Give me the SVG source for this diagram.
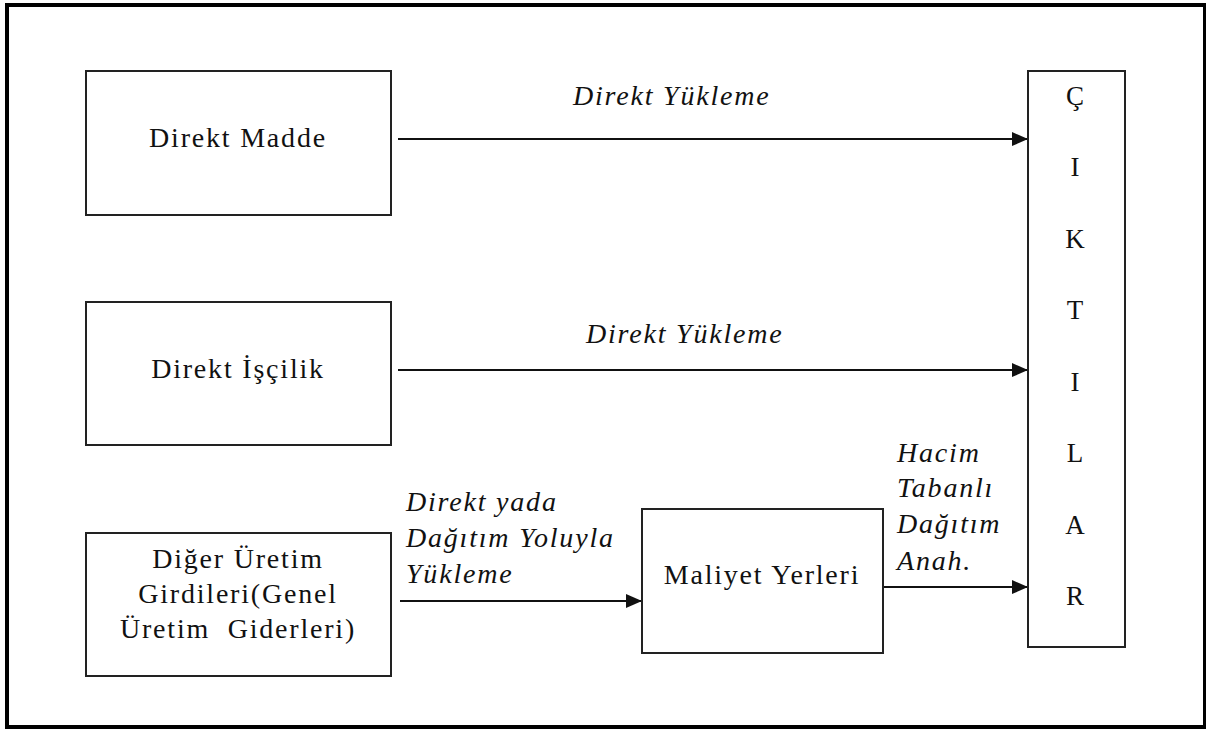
<svg xmlns="http://www.w3.org/2000/svg" width="1206" height="729" viewBox="0 0 1206 729">
  <defs>
    <marker id="arrow" markerUnits="userSpaceOnUse" markerWidth="17" markerHeight="14" refX="16" refY="7" orient="auto">
      <path d="M0,0 L16,7 L0,14 Z" fill="#111"/>
    </marker>
    <style>
      .box { fill: #fff; stroke: #222; stroke-width: 2; }
      .frame { fill: #fff; stroke: #000; stroke-width: 4; }
      .label { font-family: "Liberation Serif", "Times New Roman", serif; font-size: 28px; letter-spacing: 1.8px; fill: #111; text-anchor: middle; }
      .edge-label { font-family: "Liberation Serif", "Times New Roman", serif; font-style: italic; font-size: 28px; letter-spacing: 1.8px; fill: #111; }
      .letter { font-family: "Liberation Serif", "Times New Roman", serif; font-size: 27px; fill: #111; text-anchor: middle; }
      .conn { stroke: #111; stroke-width: 2; fill: none; marker-end: url(#arrow); }
    </style>
  </defs>

  <!-- outer frame -->
  <rect class="frame" x="7" y="5" width="1198" height="722"/>

  <!-- connectors -->
  <g id="connectors">
    <line class="conn" x1="398" y1="139" x2="1028" y2="139"/>
    <line class="conn" x1="398" y1="370" x2="1028" y2="370"/>
    <line class="conn" x1="400" y1="601" x2="642" y2="601"/>
    <line class="conn" x1="883" y1="587" x2="1028" y2="587"/>
    <text class="edge-label" x="573" y="105">Direkt Yükleme</text>
    <text class="edge-label" x="586" y="343">Direkt Yükleme</text>
    <text class="edge-label" x="406" y="511">Direkt yada</text>
    <text class="edge-label" x="406" y="547">Dağıtım Yoluyla</text>
    <text class="edge-label" x="406" y="583">Yükleme</text>
    <text class="edge-label" x="897" y="462">Hacim</text>
    <text class="edge-label" x="897" y="497">Tabanlı</text>
    <text class="edge-label" x="897" y="533">Dağıtım</text>
    <text class="edge-label" x="897" y="570">Anah.</text>
  </g>

  <!-- direct material -->
  <g id="direkt-madde">
    <rect class="box" x="86" y="71" width="305" height="144"/>
    <text class="label" x="238" y="147">Direkt Madde</text>
  </g>

  <!-- direct labour -->
  <g id="direkt-iscilik">
    <rect class="box" x="86" y="302" width="305" height="143"/>
    <text class="label" x="238" y="378">Direkt İşçilik</text>
  </g>

  <!-- other production inputs -->
  <g id="diger-uretim">
    <rect class="box" x="86" y="533" width="305" height="143"/>
    <text class="label" x="238" y="568">Diğer Üretim</text>
    <text class="label" x="238" y="603">Girdileri(Genel</text>
    <text class="label" x="238" y="638" xml:space="preserve">Üretim  Giderleri)</text>
  </g>

  <!-- cost centres -->
  <g id="maliyet-yerleri">
    <rect class="box" x="642" y="509" width="241" height="144"/>
    <text class="label" x="762" y="584">Maliyet Yerleri</text>
  </g>

  <!-- outputs (vertical lettering) -->
  <g id="ciktilar">
    <rect class="box" x="1028" y="71" width="97" height="576"/>
    <text class="letter" x="1075" y="105">Ç</text>
    <text class="letter" x="1075" y="176">I</text>
    <text class="letter" x="1075" y="248">K</text>
    <text class="letter" x="1075" y="319">T</text>
    <text class="letter" x="1075" y="391">I</text>
    <text class="letter" x="1075" y="462">L</text>
    <text class="letter" x="1075" y="534">A</text>
    <text class="letter" x="1075" y="605">R</text>
  </g>
</svg>
